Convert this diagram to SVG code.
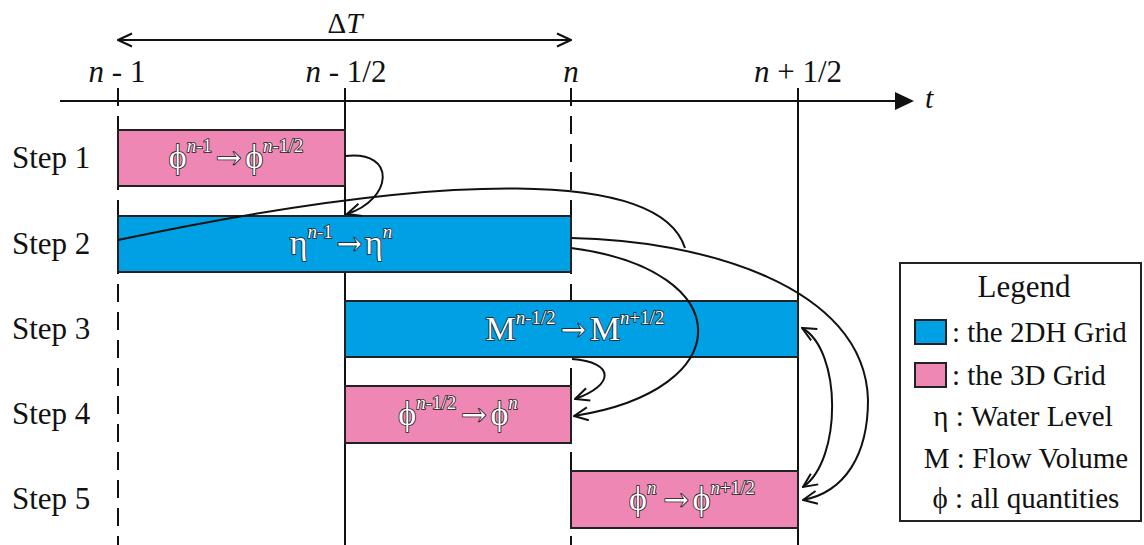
<svg xmlns="http://www.w3.org/2000/svg" width="1144" height="545" viewBox="0 0 1144 545">
<style>
text{font-family:"Liberation Serif","Times New Roman",serif;fill:#111}
.step{font-size:31px}
.tl{font-size:31px;text-anchor:middle}
.it{font-style:italic}
.box{stroke:#222;stroke-width:2}
.blue{fill:#00A0E4}
.pink{fill:#EE87B3}
.lbl{font-size:34px;text-anchor:middle;fill:#fff;stroke:#1a1a1a;stroke-width:1.6px;paint-order:stroke}
.lbl tspan{fill:#fff}
.sup{font-size:19px}
.ar{font-family:"DejaVu Serif",serif;font-size:30px}
.grid{stroke:#111;stroke-width:2;fill:none}
.dash{stroke-dasharray:18 10}
.conn{fill:none;stroke:#111;stroke-width:2}
.leg{font-size:29px}
</style>
<defs>
<marker id="open" viewBox="0 0 16 16" refX="15" refY="8" markerWidth="16" markerHeight="16" markerUnits="userSpaceOnUse" orient="auto-start-reverse">
<path d="M1,1.5 L15,8 L1,14.5" fill="none" stroke="#111" stroke-width="2"/>
</marker>
<marker id="solid" viewBox="0 0 20 20" refX="0" refY="10" markerWidth="20" markerHeight="20" markerUnits="userSpaceOnUse" orient="auto">
<path d="M0,1 L19,10 L0,19 Z" fill="#111"/>
</marker>
</defs>
<rect width="1144" height="545" fill="#fff"/>

<g id="timeline">
<line class="grid" x1="60" y1="101" x2="895" y2="101" marker-end="url(#solid)"/>
<text x="925" y="108" font-size="30" class="it">t</text>
<line class="grid dash" x1="118" y1="88" x2="118" y2="545"/>
<line class="grid" x1="345" y1="88" x2="345" y2="545"/>
<line class="grid dash" x1="571" y1="88" x2="571" y2="545"/>
<line class="grid" x1="798" y1="88" x2="798" y2="545"/>
<text class="tl" x="117" y="82"><tspan class="it">n</tspan> - 1</text>
<text class="tl" x="346" y="82"><tspan class="it">n</tspan> - 1/2</text>
<text class="tl it" x="571" y="82">n</text>
<text class="tl" x="798" y="82"><tspan class="it">n</tspan> + 1/2</text>
<text x="345" y="33" font-size="29" text-anchor="middle">Δ<tspan class="it">T</tspan></text>
</g>

<g id="step1">
<rect class="box pink" x="118" y="130" width="227" height="56"/>
<text class="step" x="12" y="168">Step 1</text>
<text class="lbl" x="236" y="168">ϕ<tspan class="sup" dy="-16"><tspan class="it">n</tspan>-1</tspan><tspan class="ar" dx="4" dy="16">→</tspan><tspan dx="4">ϕ</tspan><tspan class="sup" dy="-16"><tspan class="it">n</tspan>-1/2</tspan></text>
</g>

<g id="step2">
<rect class="box blue" x="118" y="216" width="453" height="56"/>
<text class="step" x="12" y="254">Step 2</text>
<text class="lbl" x="341" y="254">η<tspan class="sup" dy="-16"><tspan class="it">n</tspan>-1</tspan><tspan class="ar" dx="4" dy="16">→</tspan><tspan dx="3">η</tspan><tspan class="sup it" dy="-16">n</tspan></text>
</g>

<g id="step3">
<rect class="box blue" x="345" y="301" width="453" height="56"/>
<text class="step" x="12" y="339">Step 3</text>
<text class="lbl" x="575" y="340">M<tspan class="sup" dy="-16"><tspan class="it">n</tspan>-1/2</tspan><tspan class="ar" dx="5" dy="16">→</tspan><tspan dx="4">M</tspan><tspan class="sup" dy="-16"><tspan class="it">n</tspan>+1/2</tspan></text>
</g>

<g id="step4">
<rect class="box pink" x="345" y="386" width="226" height="57"/>
<text class="step" x="12" y="424">Step 4</text>
<text class="lbl" x="458" y="425">ϕ<tspan class="sup" dy="-16"><tspan class="it">n</tspan>-1/2</tspan><tspan class="ar" dx="5" dy="16">→</tspan><tspan dx="4">ϕ</tspan><tspan class="sup it" dy="-16">n</tspan></text>
</g>

<g id="step5">
<rect class="box pink" x="571" y="471" width="227" height="57"/>
<text class="step" x="12" y="509">Step 5</text>
<text class="lbl" x="692" y="510">ϕ<tspan class="sup it" dy="-16">n</tspan><tspan class="ar" dx="7" dy="16">→</tspan><tspan dx="4">ϕ</tspan><tspan class="sup" dy="-16"><tspan class="it">n</tspan>+1/2</tspan></text>
</g>

<g id="legend">
<rect x="900" y="263" width="241" height="258" fill="#fff" stroke="#222" stroke-width="2"/>
<text x="1024" y="297" font-size="31" text-anchor="middle">Legend</text>
<rect class="box blue" x="915" y="320" width="31" height="24"/>
<text class="leg" x="952" y="342">: the 2DH Grid</text>
<rect class="box pink" x="915" y="363" width="31" height="24"/>
<text class="leg" x="952" y="385">: the 3D Grid</text>
<text class="leg" x="1023" y="426" text-anchor="middle">η : Water Level</text>
<text class="leg" x="1026" y="468" text-anchor="middle">M : Flow Volume</text>
<text class="leg" x="1026" y="508" text-anchor="middle">ϕ : all quantities</text>
</g>

<g id="connectors">
<path class="conn" d="M118,40 L571,40" marker-start="url(#open)" marker-end="url(#open)"/>
<path class="conn" d="M345,156 C398,150 392,200 347,214" marker-end="url(#open)"/>
<path class="conn" d="M118,240 C450,170 660,170 685,248"/>
<path class="conn" d="M571,238 C700,240 865,285 868,400 C868,455 845,492 803,500" marker-end="url(#open)"/>
<path class="conn" d="M571,248 C740,270 740,390 574,416" marker-end="url(#open)"/>
<path class="conn" d="M572,359 C615,362 615,385 575,399" marker-end="url(#open)"/>
<path class="conn" d="M802,328 C842,350 842,460 803,487" marker-start="url(#open)" marker-end="url(#open)"/>
</g>
</svg>
